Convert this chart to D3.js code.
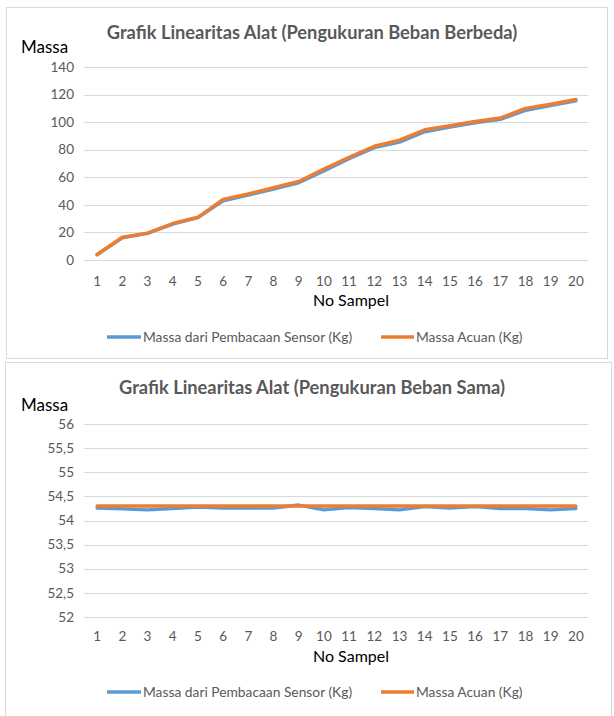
<!DOCTYPE html>
<html>
<head>
<meta charset="utf-8">
<script src="https://cdn.jsdelivr.net/npm/d3@7"></script>
<style>
  html, body { margin: 0; padding: 0; background: #fff; }
  svg { display: block; }
  text { font-family: Lato, "Open Sans", sans-serif; }
</style>
</head>
<body>
<svg id="chart" width="614" height="716"></svg>
<script>
// Sample numbers (x axis)
const samples = d3.range(1, 21);

// Chart 1: different loads
const sensorBerbeda = [3.8, 16, 19.3, 26, 30.8, 43, 47, 51.5, 56, 64.5, 73.5, 81.5, 85.5, 93, 96.5, 99.5, 102, 108.5, 112, 115.5];
const acuanBerbeda  = [4, 16.5, 19.5, 26.5, 31, 44, 48, 52.5, 57, 66, 74.5, 82.5, 87, 94.5, 97.5, 100.5, 103, 110, 113, 116.5];
const ticksBerbeda = [0, 20, 40, 60, 80, 100, 120, 140];

// Chart 2: same load
const sensorSama = [54.26, 54.24, 54.22, 54.25, 54.28, 54.26, 54.26, 54.26, 54.32, 54.22, 54.27, 54.25, 54.22, 54.29, 54.26, 54.29, 54.25, 54.25, 54.22, 54.25];
const acuanSama  = [54.3, 54.3, 54.3, 54.3, 54.3, 54.3, 54.3, 54.3, 54.3, 54.3, 54.3, 54.3, 54.3, 54.3, 54.3, 54.3, 54.3, 54.3, 54.3, 54.3];
const ticksSama = [52, 52.5, 53, 53.5, 54, 54.5, 55, 55.5, 56];

const seriesNames = ["Massa dari Pembacaan Sensor (Kg)", "Massa Acuan (Kg)"];
const colors = ["#5B9BD5", "#ED7D31"];

const idLocale = d3.formatLocale({ decimal: ",", thousands: ".", grouping: [3], currency: ["Rp", ""] });
const fmt = idLocale.format("~g");

const svg = d3.select("#chart");

function drawChart(cfg) {
  const g = svg.append("g");

  // frame
  g.append("rect")
    .attr("x", cfg.box[0] + 0.5).attr("y", cfg.box[1] + 0.5)
    .attr("width", cfg.box[2]).attr("height", cfg.box[3])
    .attr("fill", "#fff").attr("stroke", "#D9D9D9").attr("stroke-width", 1);

  const x = d3.scalePoint().domain(samples).range([84.5, 588.5]).padding(0.5);
  const y = d3.scaleLinear().domain(cfg.domain).range(cfg.yRange);

  // gridlines
  g.append("g").selectAll("line").data(cfg.ticks).join("line")
    .attr("x1", 84.5).attr("x2", 588.5)
    .attr("y1", d => Math.round(y(d)) + 0.5).attr("y2", d => Math.round(y(d)) + 0.5)
    .attr("stroke", "#D9D9D9").attr("stroke-width", 1);

  // y tick labels
  g.append("g").selectAll("text").data(cfg.ticks).join("text")
    .attr("x", 74).attr("y", d => y(d)).attr("dy", "0.35em")
    .attr("text-anchor", "end").attr("font-size", 13.5).attr("fill", "#595959")
    .text(d => fmt(d));

  // x tick labels
  g.append("g").selectAll("text").data(samples).join("text")
    .attr("x", d => x(d)).attr("y", cfg.xTickY)
    .attr("text-anchor", "middle").attr("font-size", 13.5).attr("fill", "#595959")
    .text(d => d);

  // title
  g.append("text")
    .attr("x", 312).attr("y", cfg.titleY)
    .attr("text-anchor", "middle").attr("font-size", 18.3).attr("font-weight", "bold")
    .attr("fill", "#595959").text(cfg.title);

  // axis titles
  g.append("text").attr("x", 21).attr("y", cfg.massaY)
    .attr("font-size", 17).attr("fill", "#000").text("Massa");
  g.append("text").attr("x", 351).attr("y", cfg.xTitleY)
    .attr("text-anchor", "middle").attr("font-size", 16).attr("fill", "#000").text("No Sampel");

  // series lines
  const line = d3.line().x((d, i) => x(samples[i])).y(d => y(d));
  [cfg.sensor, cfg.acuan].forEach((vals, k) => {
    g.append("path").datum(vals)
      .attr("fill", "none").attr("stroke", colors[k]).attr("stroke-width", 3.4)
      .attr("stroke-linejoin", "round").attr("stroke-linecap", "round")
      .attr("d", line);
  });

  // legend
  const legendX = [[107, 141], [381, 414]];
  seriesNames.forEach((name, k) => {
    g.append("line")
      .attr("x1", legendX[k][0]).attr("x2", legendX[k][1])
      .attr("y1", cfg.legendY).attr("y2", cfg.legendY)
      .attr("stroke", colors[k]).attr("stroke-width", 3.4);
    g.append("text")
      .attr("x", legendX[k][1] + 2).attr("y", cfg.legendY).attr("dy", "0.35em")
      .attr("font-size", 13.8).attr("fill", "#595959").text(name);
  });
}

drawChart({
  box: [6, 7, 601, 351],
  title: "Grafik Linearitas Alat (Pengukuran Beban Berbeda)",
  titleY: 39, massaY: 53,
  domain: [0, 140], yRange: [260, 67], ticks: ticksBerbeda,
  xTickY: 286, xTitleY: 306, legendY: 337,
  sensor: sensorBerbeda, acuan: acuanBerbeda
});

drawChart({
  box: [5, 362, 606, 370],
  title: "Grafik Linearitas Alat (Pengukuran Beban Sama)",
  titleY: 394, massaY: 411,
  domain: [52, 56], yRange: [617, 424], ticks: ticksSama,
  xTickY: 641, xTitleY: 662, legendY: 692,
  sensor: sensorSama, acuan: acuanSama
});
</script>
</body>
</html>
